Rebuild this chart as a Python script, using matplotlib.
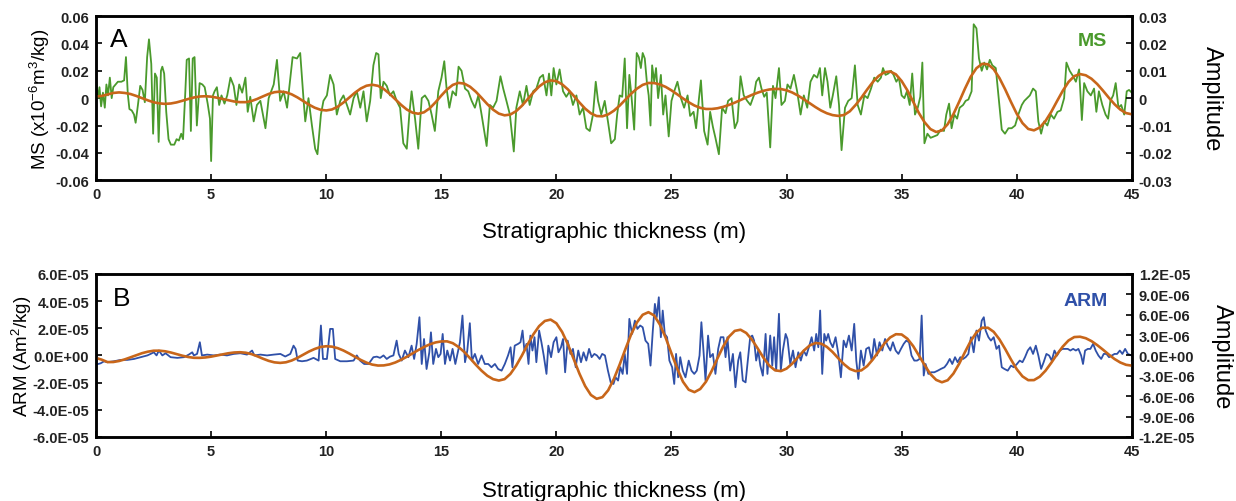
import numpy as np
import matplotlib
matplotlib.use('Agg')
import matplotlib.pyplot as plt

plt.rcParams['font.family'] = ['Liberation Sans', 'DejaVu Sans']
plt.rcParams['mathtext.default'] = 'regular'

green = '#4a9a2c'
orange = '#c8661a'
blue = '#2f50a8'

# MS record, (depth m, MS x1e-6 m3/kg)
ms_points = [
    (0.00, 0.014), (0.08, 0.000), (0.15, 0.008), (0.22, -0.006), (0.30, 0.004), (0.38, -0.007),
    (0.45, 0.010), (0.52, 0.002), (0.60, 0.015), (0.68, 0.000), (0.75, 0.008), (0.85, 0.010),
    (0.95, 0.012), (1.10, 0.012), (1.22, 0.013), (1.30, 0.030), (1.38, 0.003), (1.45, -0.008),
    (1.55, -0.009), (1.65, -0.012), (1.72, -0.018), (1.82, -0.005), (1.92, 0.009), (2.02, 0.006),
    (2.12, -0.003), (2.22, 0.030), (2.30, 0.043), (2.40, 0.025), (2.48, -0.026), (2.56, 0.018),
    (2.64, 0.015), (2.72, -0.032), (2.82, 0.020), (2.88, 0.023), (2.96, 0.018), (3.05, -0.010),
    (3.15, -0.030), (3.25, -0.034), (3.40, -0.034), (3.50, -0.030), (3.60, -0.031), (3.70, -0.026),
    (3.78, -0.030), (3.88, 0.005), (3.94, 0.028), (4.04, 0.029), (4.12, -0.024), (4.20, 0.029),
    (4.28, 0.030), (4.38, -0.020), (4.50, 0.011), (4.62, 0.010), (4.72, 0.008), (4.85, -0.004),
    (4.95, -0.015), (5.00, -0.046), (5.08, 0.002), (5.15, 0.005), (5.25, 0.008), (5.35, -0.005),
    (5.45, 0.002), (5.58, -0.004), (5.70, 0.002), (5.84, 0.015), (5.98, 0.009), (6.10, -0.005),
    (6.22, 0.010), (6.35, 0.004), (6.49, 0.015), (6.59, -0.010), (6.70, 0.001), (6.85, -0.017),
    (6.99, -0.005), (7.14, -0.002), (7.36, -0.022), (7.50, 0.000), (7.72, 0.010), (7.86, 0.028),
    (8.00, -0.002), (8.15, 0.005), (8.30, -0.007), (8.54, 0.030), (8.73, 0.029), (8.87, 0.033),
    (9.02, -0.002), (9.09, -0.017), (9.23, 0.000), (9.38, -0.020), (9.52, -0.037), (9.62, -0.041),
    (9.77, -0.012), (9.88, -0.002), (10.03, 0.002), (10.17, 0.017), (10.32, 0.010), (10.46, -0.012),
    (10.61, -0.002), (10.75, 0.002), (10.90, -0.005), (11.04, -0.012), (11.19, 0.000), (11.33, 0.005),
    (11.48, -0.007), (11.62, 0.005), (11.76, -0.017), (11.91, -0.002), (12.05, 0.024), (12.17, 0.033),
    (12.27, 0.032), (12.37, 0.000), (12.49, 0.012), (12.63, 0.009), (12.77, 0.002), (12.92, 0.005),
    (13.06, -0.002), (13.21, -0.007), (13.35, -0.033), (13.50, -0.037), (13.61, -0.012), (13.71, 0.005),
    (13.86, -0.015), (14.00, -0.037), (14.15, 0.000), (14.29, 0.002), (14.44, -0.002), (14.58, -0.012),
    (14.72, -0.024), (14.87, 0.005), (15.01, 0.015), (15.13, 0.027), (15.23, 0.007), (15.35, -0.007),
    (15.49, 0.005), (15.64, 0.002), (15.75, 0.023), (15.88, 0.020), (16.03, 0.007), (16.17, 0.005),
    (16.32, -0.002), (16.46, -0.007), (16.61, 0.002), (16.75, -0.012), (16.97, -0.035), (17.11, -0.005),
    (17.25, -0.007), (17.40, -0.002), (17.57, 0.016), (17.69, 0.007), (17.83, -0.002), (17.98, -0.012),
    (18.15, -0.039), (18.26, -0.007), (18.41, 0.005), (18.55, -0.005), (18.70, 0.009), (18.84, -0.005),
    (18.99, 0.005), (19.13, 0.007), (19.28, 0.015), (19.42, 0.017), (19.57, 0.002), (19.68, 0.018),
    (19.78, 0.002), (19.88, 0.022), (20.00, 0.010), (20.14, 0.021), (20.29, 0.005), (20.43, 0.001),
    (20.58, 0.005), (20.72, -0.005), (20.87, 0.002), (21.01, -0.012), (21.16, -0.007), (21.30, -0.022),
    (21.45, -0.024), (21.59, -0.012), (21.71, 0.012), (21.81, -0.002), (21.95, -0.012), (22.10, -0.002),
    (22.24, -0.017), (22.38, -0.033), (22.54, -0.030), (22.64, -0.012), (22.75, 0.002), (22.86, 0.001),
    (22.97, 0.029), (23.07, -0.022), (23.17, 0.017), (23.26, 0.002), (23.38, -0.023), (23.49, 0.033),
    (23.58, 0.030), (23.67, 0.022), (23.75, 0.033), (23.84, 0.029), (23.93, 0.012), (24.01, 0.002),
    (24.09, -0.020), (24.16, 0.024), (24.25, 0.012), (24.33, 0.022), (24.42, 0.000), (24.54, 0.017),
    (24.64, -0.012), (24.74, 0.002), (24.88, -0.028), (25.00, -0.002), (25.12, 0.005), (25.26, 0.012),
    (25.41, 0.000), (25.55, -0.007), (25.70, 0.002), (25.81, -0.013), (25.96, -0.010), (26.07, -0.022),
    (26.19, -0.001), (26.28, 0.013), (26.42, -0.024), (26.57, -0.034), (26.68, -0.010), (26.80, -0.021),
    (26.91, -0.029), (27.06, -0.041), (27.20, -0.007), (27.35, -0.011), (27.46, -0.002), (27.61, 0.000),
    (27.75, -0.022), (27.87, -0.017), (28.00, 0.016), (28.14, 0.002), (28.29, -0.002), (28.43, -0.005),
    (28.58, 0.002), (28.68, 0.012), (28.80, 0.015), (28.91, 0.007), (29.03, 0.001), (29.14, 0.004),
    (29.29, -0.036), (29.41, 0.009), (29.52, 0.000), (29.67, 0.022), (29.78, -0.005), (29.93, -0.002),
    (30.04, 0.010), (30.17, 0.007), (30.32, 0.017), (30.46, 0.005), (30.61, -0.012), (30.75, 0.002),
    (30.90, -0.007), (31.04, 0.012), (31.19, 0.017), (31.33, 0.015), (31.45, 0.022), (31.55, 0.002),
    (31.67, 0.022), (31.78, 0.012), (31.90, -0.007), (32.01, 0.002), (32.16, 0.016), (32.28, -0.005),
    (32.39, -0.038), (32.54, -0.007), (32.68, -0.002), (32.83, 0.000), (32.97, 0.024), (33.09, -0.005),
    (33.23, -0.012), (33.38, 0.002), (33.52, 0.000), (33.67, 0.007), (33.81, 0.015), (33.96, 0.012),
    (34.10, 0.015), (34.19, 0.022), (34.30, 0.017), (34.42, 0.018), (34.54, 0.020), (34.65, 0.017),
    (34.77, 0.012), (34.88, 0.015), (35.00, 0.002), (35.12, 0.000), (35.23, 0.005), (35.35, -0.005),
    (35.46, 0.018), (35.58, -0.012), (35.70, -0.007), (35.81, 0.001), (35.90, 0.026), (35.99, -0.033),
    (36.12, -0.026), (36.26, -0.029), (36.41, -0.028), (36.55, -0.027), (36.70, -0.023), (36.84, -0.024),
    (36.94, -0.012), (37.06, -0.004), (37.17, -0.022), (37.29, -0.012), (37.41, -0.015), (37.52, -0.007),
    (37.67, -0.005), (37.78, -0.002), (37.90, -0.001), (38.04, 0.005), (38.13, 0.054), (38.25, 0.051),
    (38.36, 0.029), (38.48, 0.020), (38.59, 0.026), (38.71, 0.021), (38.83, 0.028), (38.94, 0.024),
    (39.09, 0.022), (39.23, -0.002), (39.35, -0.023), (39.49, -0.026), (39.64, -0.022), (39.78, -0.022),
    (39.93, -0.020), (40.07, -0.012), (40.22, -0.005), (40.33, -0.002), (40.45, 0.000), (40.57, 0.002),
    (40.71, 0.007), (40.83, 0.005), (40.94, -0.017), (41.06, -0.026), (41.19, -0.017), (41.33, -0.020),
    (41.48, -0.012), (41.62, -0.015), (41.77, -0.010), (41.91, -0.009), (42.06, 0.000), (42.16, 0.026),
    (42.30, 0.020), (42.45, 0.016), (42.57, 0.012), (42.71, 0.021), (42.83, -0.016), (42.93, 0.011),
    (43.07, 0.005), (43.22, 0.002), (43.36, 0.007), (43.46, -0.010), (43.57, 0.005), (43.72, -0.005),
    (43.86, -0.012), (43.97, -0.015), (44.07, -0.002), (44.19, 0.002), (44.30, 0.011), (44.42, -0.007),
    (44.54, -0.005), (44.67, -0.012), (44.78, 0.005), (44.88, 0.006), (45.00, 0.004),
]

# filtered MS amplitude, every 0.25 m from 0 to 45 m
ms_filter = [
    0.0006, 0.0008, 0.00135, 0.0019, 0.0021, 0.0019, 0.0015, 0.0008, 0.0, -0.0008, -0.0015, -0.0019,
    -0.0021, -0.00195, -0.00155, -0.00096, -0.00032, 0.00024, 0.0006, 0.0007, 0.00054, 0.00017, -0.0003,
    -0.0008, -0.00122, -0.00146, -0.00146, -0.00106, -0.0003, 0.00064, 0.00153, 0.00217, 0.0024, 0.00214,
    0.00139, 0.00027, -0.00105, -0.00237, -0.00349, -0.00424, -0.0045, -0.00414, -0.00312, -0.0016, 0.0002,
    0.002, 0.00352, 0.00454, 0.0049, 0.0045, 0.00335, 0.00163, -0.0004, -0.00243, -0.00415, -0.0053,
    -0.0057, -0.00517, -0.00368, -0.00151, 0.00093, 0.00319, 0.00484, 0.00558, 0.00531, 0.00417, 0.00235,
    0.00011, -0.00219, -0.00421, -0.00565, -0.00628, -0.00599, -0.00476, -0.00281, -0.0004, 0.00208,
    0.00425, 0.0058, 0.00648, 0.00621, 0.00505, 0.0032, 0.00089, -0.00157, -0.00383, -0.00555, -0.00654,
    -0.00664, -0.00595, -0.00458, -0.00272, -0.00055, 0.00162, 0.00348, 0.00485, 0.00554, 0.00551, 0.005,
    0.0041, 0.00284, 0.0014, -0.0001, -0.00151, -0.0027, -0.00354, -0.00396, -0.00396, -0.0037, -0.00317,
    -0.00248, -0.00164, -0.00069, 0.00028, 0.0012, 0.00202, 0.00269, 0.00316, 0.00338, 0.00333, 0.00288,
    0.00205, 0.00093, -0.0004, -0.00184, -0.00324, -0.00452, -0.00552, -0.0062, -0.00649, -0.00616,
    -0.0048, -0.0025, 0.00017, 0.00313, 0.0059, 0.0081, 0.00946, 0.00977, 0.0087, 0.00625, 0.00284,
    -0.0013, -0.00544, -0.00885, -0.0113, -0.01237, -0.01181, -0.00953, -0.00584, -0.00131, 0.00346,
    0.00781, 0.01094, 0.01255, 0.01239, 0.01057, 0.00733, 0.00318, -0.00138, -0.00568, -0.00911,
    -0.01126, -0.01177, -0.01073, -0.00837, -0.00502, -0.00111, 0.00267, 0.00592, 0.00805, 0.0088,
    0.00836, 0.00708, 0.00513, 0.00273, 0.00017, -0.00223, -0.00418, -0.00546, -0.0059,
]

# ARM record, (depth m, ARM in 1e-5 Am2/kg)
arm_points = [
    (0.00, -0.67), (0.20, -0.58), (0.35, -0.43), (0.49, -0.50), (0.78, -0.43), (1.07, -0.33),
    (1.36, -0.33), (1.65, -0.26), (1.94, -0.13), (2.23, 0.00), (2.37, 0.11), (2.51, 0.23),
    (2.63, 0.00), (2.73, 0.36), (2.88, 0.00), (3.02, 0.16), (3.24, -0.13), (3.53, -0.18),
    (3.82, -0.13), (4.03, 0.06), (4.18, 0.23), (4.25, 0.00), (4.39, 0.11), (4.51, 0.97),
    (4.60, 0.00), (4.83, 0.06), (5.12, 0.00), (5.40, 0.06), (5.69, 0.00), (5.98, 0.11),
    (6.27, 0.16), (6.56, 0.06), (6.78, 0.36), (6.88, 0.00), (7.14, 0.06), (7.43, 0.00),
    (7.72, 0.06), (8.01, 0.11), (8.22, -0.08), (8.44, 0.11), (8.58, 0.72), (8.67, 0.48),
    (8.76, -0.38), (8.95, -0.43), (9.16, -0.38), (9.45, -0.18), (9.67, -0.38), (9.77, 2.20),
    (9.86, -0.26), (9.96, -0.26), (10.03, -0.26), (10.17, 1.95), (10.29, 1.95), (10.39, -0.26),
    (10.61, -0.43), (10.90, -0.43), (11.19, -0.38), (11.33, 0.00), (11.47, -0.38), (11.65, -0.63),
    (11.84, -0.63), (12.05, -0.13), (12.20, -0.09), (12.34, -0.18), (12.49, 0.00), (12.63, -0.26),
    (12.77, -0.09), (12.92, 0.00), (13.06, 1.09), (13.15, 0.11), (13.28, -0.38), (13.42, 0.36),
    (13.57, -0.13), (13.71, 0.72), (13.82, -0.26), (13.93, 0.85), (14.05, 2.81), (14.15, -0.63),
    (14.25, 1.21), (14.36, -1.00), (14.48, 0.23), (14.55, 1.70), (14.65, -0.63), (14.77, 0.48),
    (14.87, -0.13), (14.97, 0.11), (15.06, 1.58), (15.16, -0.63), (15.26, 0.36), (15.38, -0.38),
    (15.49, 0.48), (15.61, -0.63), (15.72, 0.23), (15.81, 0.97), (15.92, 2.93), (16.03, -0.50),
    (16.13, 0.36), (16.24, 2.37), (16.33, -0.38), (16.46, 0.11), (16.60, -0.63), (16.75, 0.00),
    (16.89, -0.63), (17.04, -0.63), (17.18, -0.87), (17.33, -0.63), (17.47, -1.00), (17.62, -1.12),
    (17.76, -0.63), (17.90, 0.00), (18.01, 0.60), (18.09, -0.87), (18.19, 0.72), (18.34, 0.85),
    (18.44, 0.97), (18.53, 1.83), (18.61, 0.36), (18.70, 0.85), (18.79, -0.63), (18.87, 1.46),
    (18.96, 0.36), (19.05, 1.34), (19.13, -0.50), (19.25, 1.83), (19.35, 0.97), (19.45, 0.00),
    (19.57, -1.36), (19.65, 0.72), (19.77, -0.13), (19.88, 0.97), (20.00, 1.34), (20.09, 0.23),
    (20.20, 0.60), (20.29, 1.21), (20.38, -1.24), (20.49, 1.09), (20.61, 0.11), (20.72, 0.48),
    (20.84, -0.87), (20.95, 0.36), (21.07, -0.50), (21.18, 0.23), (21.30, -0.38), (21.42, 0.48),
    (21.53, -0.13), (21.65, 0.11), (21.76, 0.00), (21.88, -0.26), (21.99, 0.11), (22.11, 0.00),
    (22.24, -1.12), (22.36, -1.98), (22.48, -2.10), (22.57, -1.61), (22.68, -1.85), (22.78, -0.87),
    (22.88, -1.36), (22.97, 0.11), (23.07, -1.36), (23.17, 2.69), (23.29, 1.58), (23.41, 2.56),
    (23.52, 1.95), (23.64, 2.20), (23.75, 2.07), (23.87, 1.09), (23.99, 0.85), (24.09, -0.75),
    (24.19, 1.83), (24.28, 3.79), (24.36, 2.81), (24.45, 4.28), (24.54, 1.34), (24.62, 3.30),
    (24.71, 1.58), (24.81, 1.34), (24.91, -0.38), (25.03, -0.87), (25.12, -2.10), (25.20, 0.11),
    (25.29, -1.61), (25.38, -0.13), (25.49, -1.12), (25.61, -1.61), (25.75, -0.38), (25.87, -1.12),
    (25.99, -1.36), (26.10, -1.12), (26.22, -0.01), (26.30, 2.44), (26.39, 0.36), (26.48, -1.85),
    (26.59, 1.46), (26.68, -0.13), (26.80, 0.11), (26.91, -1.36), (27.03, 0.48), (27.14, 1.34),
    (27.26, 1.34), (27.35, -0.13), (27.43, 1.34), (27.55, -1.12), (27.67, 0.11), (27.78, -2.34),
    (27.90, -0.38), (27.99, 0.23), (28.10, -1.85), (28.22, -1.98), (28.33, -0.13), (28.42, 1.34),
    (28.51, 1.46), (28.59, 1.09), (28.68, -0.38), (28.77, 0.36), (28.86, -0.75), (28.97, -1.49),
    (29.09, 1.58), (29.17, -1.36), (29.29, 1.46), (29.38, -0.75), (29.46, 1.34), (29.55, -1.12),
    (29.67, 3.06), (29.75, -1.12), (29.84, 0.36), (29.96, 1.58), (30.04, 1.21), (30.16, -0.63),
    (30.28, 0.36), (30.39, -0.87), (30.51, 0.23), (30.62, -0.38), (30.74, 0.36), (30.86, -0.01),
    (30.97, 0.60), (31.09, 1.34), (31.20, 0.36), (31.29, 1.58), (31.38, 0.60), (31.46, 3.30),
    (31.55, -1.36), (31.64, 1.58), (31.72, 1.09), (31.81, 1.58), (31.90, 0.97), (32.01, 0.60),
    (32.13, 1.34), (32.25, 0.11), (32.36, -1.61), (32.48, 1.09), (32.59, 0.60), (32.71, 1.46),
    (32.83, 0.36), (32.94, 2.32), (33.03, -0.38), (33.12, -1.73), (33.23, 0.36), (33.35, -0.75),
    (33.46, 0.48), (33.58, 0.60), (33.70, -0.38), (33.81, 1.21), (33.93, -0.01), (34.04, 0.97),
    (34.16, 0.36), (34.28, 1.21), (34.39, 0.72), (34.51, 0.36), (34.62, 0.97), (34.74, 0.36),
    (34.86, 0.11), (34.97, 0.48), (35.09, 0.85), (35.20, 1.09), (35.32, 0.97), (35.43, -0.01),
    (35.55, -0.38), (35.67, -0.38), (35.78, -0.26), (35.87, 2.93), (35.96, -1.48), (36.04, -0.63),
    (36.16, -1.36), (36.28, -1.24), (36.42, -1.24), (36.57, -1.12), (36.71, -0.99), (36.86, -0.87),
    (36.97, -0.63), (37.09, -0.26), (37.20, -0.63), (37.32, -0.13), (37.43, -0.50), (37.55, -0.13),
    (37.67, -0.26), (37.78, -0.13), (37.90, 0.11), (38.01, 1.34), (38.13, 0.23), (38.25, 1.83),
    (38.36, 1.09), (38.48, 2.56), (38.57, 2.81), (38.65, 1.83), (38.77, 1.34), (38.88, 1.09),
    (39.00, 1.34), (39.12, 0.48), (39.23, 0.72), (39.35, -0.87), (39.46, -0.99), (39.61, -1.12),
    (39.75, -0.75), (39.87, -0.87), (40.01, -0.63), (40.13, -0.38), (40.25, -0.50), (40.36, -0.13),
    (40.48, 0.36), (40.59, 0.60), (40.71, 0.11), (40.83, 0.72), (40.94, -0.01), (41.06, -0.99),
    (41.17, -0.50), (41.29, 0.11), (41.41, -0.01), (41.52, -0.38), (41.64, 0.36), (41.75, -0.01),
    (41.87, 0.36), (41.99, 0.48), (42.10, 0.48), (42.22, 0.48), (42.33, 0.36), (42.45, 0.48),
    (42.57, 0.36), (42.68, 0.48), (42.80, -0.01), (42.88, -0.63), (42.97, 0.36), (43.09, 0.48),
    (43.20, 0.48), (43.32, 0.85), (43.43, 0.36), (43.55, -0.01), (43.67, -0.26), (43.78, 0.11),
    (43.90, 0.11), (44.01, -0.13), (44.13, -0.01), (44.25, 0.11), (44.36, 0.11), (44.48, 0.36),
    (44.59, 0.11), (44.71, 0.48), (44.83, 0.11), (45.00, -0.01),
]

# filtered ARM amplitude in 1e-6, every 0.25 m
arm_filter = [
    -0.37, -0.63, -0.98, -0.97, -0.82, -0.58, -0.28, 0.03, 0.33, 0.55, 0.69, 0.70, 0.61, 0.43, 0.20,
    -0.04, -0.23, -0.35, -0.36, -0.30, -0.18, -0.01, 0.16, 0.32, 0.43, 0.47, 0.40, 0.20, -0.12, -0.48,
    -0.80, -1.02, -1.10, -1.01, -0.75, -0.36, 0.10, 0.57, 0.95, 1.24, 1.35, 1.29, 1.07, 0.72, 0.28,
    -0.20, -0.66, -1.06, -1.35, -1.49, -1.47, -1.32, -1.04, -0.65, -0.20, 0.30, 0.79, 1.24, 1.63, 1.91,
    2.06, 2.07, 1.80, 1.24, 0.50, -0.42, -1.37, -2.25, -2.99, -3.49, -3.70, -3.49, -2.73, -1.52, -0.03,
    1.60, 3.10, 4.31, 5.07, 5.27, 4.73, 3.45, 1.64, -0.52, -2.67, -4.51, -5.82, -6.38, -6.14, -5.13,
    -3.44, -1.34, 0.94, 3.11, 4.86, 5.98, 6.36, 5.87, 4.52, 2.59, 0.30, -1.94, -3.87, -5.05, -5.40,
    -4.94, -3.86, -2.26, -0.42, 1.34, 2.76, 3.61, 3.78, 3.30, 2.30, 1.01, -0.36, -1.50, -2.19, -2.31,
    -1.94, -1.20, -0.25, 0.71, 1.45, 1.82, 1.74, 1.26, 0.50, -0.43, -1.31, -1.99, -2.31, -2.20, -1.58,
    -0.59, 0.59, 1.75, 2.64, 3.12, 3.08, 2.46, 1.38, -0.01, -1.44, -2.74, -3.60, -3.95, -3.65, -2.67,
    -1.22, 0.48, 2.11, 3.38, 4.07, 4.07, 3.47, 2.36, 0.94, -0.60, -2.02, -3.08, -3.64, -3.63, -3.13,
    -2.25, -1.09, 0.16, 1.30, 2.20, 2.70, 2.75, 2.53, 2.10, 1.51, 0.84, 0.13, -0.53, -1.04, -1.38, -1.50,
]

x_ticks = [0, 5, 10, 15, 20, 25, 30, 35, 40, 45]
ms_ticks = [-0.06, -0.04, -0.02, 0, 0.02, 0.04, 0.06]
ms_tick_labels = ['-0.06', '-0.04', '-0.02', '0', '0.02', '0.04', '0.06']
ms_amp_ticks = [-0.03, -0.02, -0.01, 0, 0.01, 0.02, 0.03]
ms_amp_labels = ['-0.03', '-0.02', '-0.01', '0', '0.01', '0.02', '0.03']
arm_ticks = [-6e-5, -4e-5, -2e-5, 0, 2e-5, 4e-5, 6e-5]
arm_tick_labels = ['-6.0E-05', '-4.0E-05', '-2.0E-05', '0.0E+00', '2.0E-05', '4.0E-05', '6.0E-05']
arm_amp_ticks = [-1.2e-5, -9e-6, -6e-6, -3e-6, 0, 3e-6, 6e-6, 9e-6, 1.2e-5]
arm_amp_labels = ['-1.2E-05', '-9.0E-06', '-6.0E-06', '-3.0E-06', '0.0E+00',
                  '3.0E-06', '6.0E-06', '9.0E-06', '1.2E-05']

ms_depth, ms_val = zip(*ms_points)
arm_depth, arm_val = zip(*arm_points)
arm_val = np.array(arm_val) * 1e-5
filt_depth = np.arange(len(ms_filter)) * 0.25
arm_filt = np.array(arm_filter) * 1e-6


def style(ax, ax2, ticks, labels, rticks, rlabels, ylabel):
    ax.set_xlim(0, 45)
    ax.set_xticks(x_ticks)
    ax.set_xticklabels([str(t) for t in x_ticks])
    ax.set_yticks(ticks)
    ax.set_yticklabels(labels)
    ax.set_ylim(ticks[0], ticks[-1])
    ax2.set_yticks(rticks)
    ax2.set_yticklabels(rlabels)
    ax2.set_ylim(rticks[0], rticks[-1])
    for a in (ax, ax2):
        a.tick_params(direction='in', length=4, width=1.2, labelsize=10.5, pad=5)
        for s in a.spines.values():
            s.set_linewidth(1.8)
        for lab in a.get_xticklabels() + a.get_yticklabels():
            lab.set_fontweight('bold')
            lab.set_color('#222222')
    ax.set_xlabel('Stratigraphic thickness (m)', fontsize=16)
    ax.xaxis.label.set_va('center')
    ax.set_ylabel(ylabel, fontsize=13.5, va='center')
    ax2.set_ylabel('Amplitude', fontsize=17, rotation=-90, va='center')


fig = plt.figure(figsize=(12.36, 5.02), dpi=100)

axA = fig.add_axes([0.0777, 0.639, 0.838, 0.327])
axA2 = axA.twinx()
axA.plot(ms_depth, ms_val, color=green, lw=1.3)
axA2.plot(filt_depth, ms_filter, color=orange, lw=1.9)
style(axA, axA2, ms_ticks, ms_tick_labels, ms_amp_ticks, ms_amp_labels,
      'MS (x10$^{-6}$m$^{3}$/kg)')
axA.xaxis.set_label_coords(0.5, -0.31)
axA.yaxis.set_label_coords(-0.054, 0.5)
axA2.yaxis.set_label_coords(1.077, 0.5)
axA.text(0.013, 0.86, 'A', transform=axA.transAxes, fontsize=19, va='center', ha='left')
axA.text(0.962, 0.85, 'MS', transform=axA.transAxes, fontsize=14, fontweight='bold',
         color=green, va='center', ha='center')

axB = fig.add_axes([0.0777, 0.1275, 0.838, 0.325])
axB2 = axB.twinx()
axB.plot(arm_depth, arm_val, color=blue, lw=1.3)
axB2.plot(filt_depth, arm_filt, color=orange, lw=1.9)
style(axB, axB2, arm_ticks, arm_tick_labels, arm_amp_ticks, arm_amp_labels,
      'ARM (Am$^{2}$/kg)')
axB.xaxis.set_label_coords(0.5, -0.325)
axB.yaxis.set_label_coords(-0.0714, 0.5)
axB2.yaxis.set_label_coords(1.087, 0.5)
axB.text(0.016, 0.855, 'B', transform=axB.transAxes, fontsize=19, va='center', ha='left')
axB.text(0.955, 0.835, 'ARM', transform=axB.transAxes, fontsize=14, fontweight='bold',
         color=blue, va='center', ha='center')

fig.savefig('out.png', dpi=100)
